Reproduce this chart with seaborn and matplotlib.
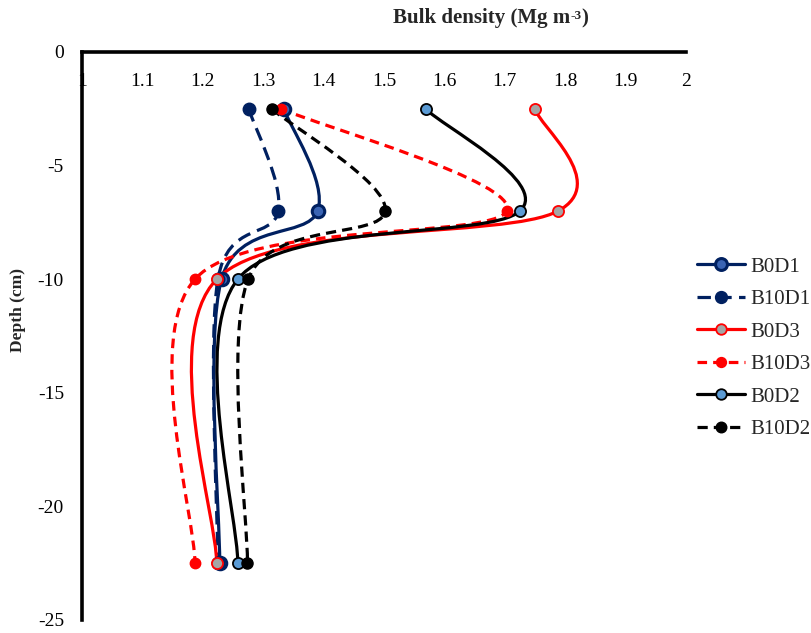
import numpy as np
import pandas as pd
import matplotlib
matplotlib.use("Agg")
import matplotlib.pyplot as plt
from matplotlib.path import Path
from matplotlib.patches import PathPatch
from matplotlib.lines import Line2D
import seaborn as sns

# ---------------- data ----------------
depth = [-2.5, -7, -10, -22.5]
series_names = ["B0D1", "B10D1", "B0D3", "B10D3", "B0D2", "B10D2"]
b0d1 = [1.334, 1.390, 1.231, 1.228]
b10d1 = [1.276, 1.325, 1.225, 1.225]
b0d3 = [1.750, 1.788, 1.223, 1.223]
b10d3 = [1.330, 1.703, 1.187, 1.187]
b0d2 = [1.569, 1.725, 1.258, 1.258]
b10d2 = [1.314, 1.502, 1.275, 1.274]
x_ticks = [1, 1.1, 1.2, 1.3, 1.4, 1.5, 1.6, 1.7, 1.8, 1.9, 2]
x_tick_labels = ["1", "1.1", "1.2", "1.3", "1.4", "1.5", "1.6", "1.7", "1.8", "1.9", "2"]
y_ticks = [0, -5, -10, -15, -20, -25]
y_tick_labels = ["0", "-5", "-10", "-15", "-20", "-25"]

NAVY = "#002060"
RED = "#FF0000"
BLACK = "#000000"

styles = {
    "B0D1": dict(color=NAVY, ls="-", face="#3A64B4", edge=NAVY, ms=9.0, mew=2.2),
    "B10D1": dict(color=NAVY, ls=(0, (4.2, 2.3)), face=NAVY, edge=NAVY, ms=9.0, mew=1.0),
    "B0D3": dict(color=RED, ls="-", face="#A5A5A5", edge=RED, ms=8.0, mew=1.3),
    "B10D3": dict(color=RED, ls=(0, (3.0, 1.9)), face=RED, edge=RED, ms=7.5, mew=1.0),
    "B0D2": dict(color=BLACK, ls="-", face="#5B9BD5", edge=BLACK, ms=8.0, mew=1.3),
    "B10D2": dict(color=BLACK, ls=(0, (3.2, 1.9)), face=BLACK, edge=BLACK, ms=8.0, mew=1.0),
}
values = {"B0D1": b0d1, "B10D1": b10d1, "B0D3": b0d3,
          "B10D3": b10d3, "B0D2": b0d2, "B10D2": b10d2}

df = pd.DataFrame([(n, v, d) for n in series_names for v, d in zip(values[n], depth)],
                  columns=["series", "density", "depth"])

# ---------------- figure ----------------
sns.set_theme(style="white")
plt.rcParams["font.family"] = ["Liberation Serif", "DejaVu Serif"]

fig = plt.figure(figsize=(8.11, 6.33), dpi=100)
ax = fig.add_axes([82 / 811, 1 - 620 / 633, (686 - 82) / 811, (620 - 52) / 633])
LW = 2.3


def smooth_path(xs, ys):
    pts = np.column_stack([xs, ys]).astype(float)
    n = len(pts)
    verts = [pts[0]]
    codes = [Path.MOVETO]
    for i in range(n - 1):
        p0 = pts[max(i - 1, 0)]
        p1 = pts[i]
        p2 = pts[i + 1]
        p3 = pts[min(i + 2, n - 1)]
        c1 = p1 + (p2 - p0) / 6.0
        c2 = p2 - (p3 - p1) / 6.0
        verts += [c1, c2, p2]
        codes += [Path.CURVE4] * 3
    return Path(verts, codes)


for k, name in enumerate(series_names):
    st = styles[name]
    sub = df[df["series"] == name]
    patch = PathPatch(smooth_path(sub["density"].values, sub["depth"].values),
                      fill=False, edgecolor=st["color"], linewidth=LW,
                      linestyle=st["ls"], zorder=3 + k * 0.1)
    ax.add_patch(patch)
    sns.scatterplot(data=sub, x="density", y="depth", ax=ax, marker="o",
                    s=st["ms"] ** 2, color=st["face"], edgecolor=st["edge"],
                    linewidth=st["mew"], zorder=4 + k * 0.1, legend=False)

ax.set_xlim(1, 2)
ax.set_ylim(-25, 0)
ax.set_xlabel("")
ax.set_ylabel("")
ax.set_xticks(x_ticks)
ax.set_xticklabels(x_tick_labels)
ax.set_yticks(y_ticks)
ax.set_yticklabels(y_tick_labels)
ax.tick_params(axis="x", bottom=False, labelbottom=False, top=False, labeltop=True,
               length=0, pad=-27, labelsize=14, colors="black")
ax.tick_params(axis="y", left=False, length=0, pad=13, labelsize=14, colors="black")

for side in ["right", "bottom"]:
    ax.spines[side].set_visible(False)
for side in ["left", "top"]:
    ax.spines[side].set_visible(True)
    ax.spines[side].set_color("black")
    ax.spines[side].set_linewidth(2.6)
    ax.spines[side].set_zorder(6)
    ax.spines[side].set_capstyle("projecting")
ax.grid(False)
ax.set_facecolor("white")

# title with small superscript "-3"
t_main = fig.text(482 / 811, 1 - 18 / 633, "Bulk density (Mg m", ha="center", va="center",
                  fontsize=15, fontweight="bold")
fig.canvas.draw()
bb = t_main.get_window_extent()
sup = fig.text(bb.x1 / fig.bbox.width, (bb.y0 + bb.height * 0.62) / fig.bbox.height, "-3",
               ha="left", va="center", fontsize=9.5, fontweight="bold")
fig.canvas.draw()
bb2 = sup.get_window_extent()
fig.text(bb2.x1 / fig.bbox.width, 1 - 18 / 633, ")", ha="left", va="center",
         fontsize=15, fontweight="bold")

fig.text(18 / 811, 1 - 310 / 633, "Depth (cm)", ha="center", va="center",
         rotation=90, fontsize=12.5, fontweight="bold")

handles = []
for name in series_names:
    st = styles[name]
    handles.append(Line2D([0], [0], color=st["color"], linewidth=LW, linestyle=st["ls"],
                          marker="o", markersize=st["ms"] * 0.95, markerfacecolor=st["face"],
                          markeredgecolor=st["edge"], markeredgewidth=st["mew"]))
ax.legend(handles, series_names, loc="center left",
          bbox_to_anchor=(697 / 811, 1 - 348 / 633), bbox_transform=fig.transFigure,
          frameon=False, fontsize=15, handlelength=2.3, handletextpad=0.25,
          labelspacing=0.62, borderpad=0, borderaxespad=0)

fig.savefig("out.png", dpi=100)
